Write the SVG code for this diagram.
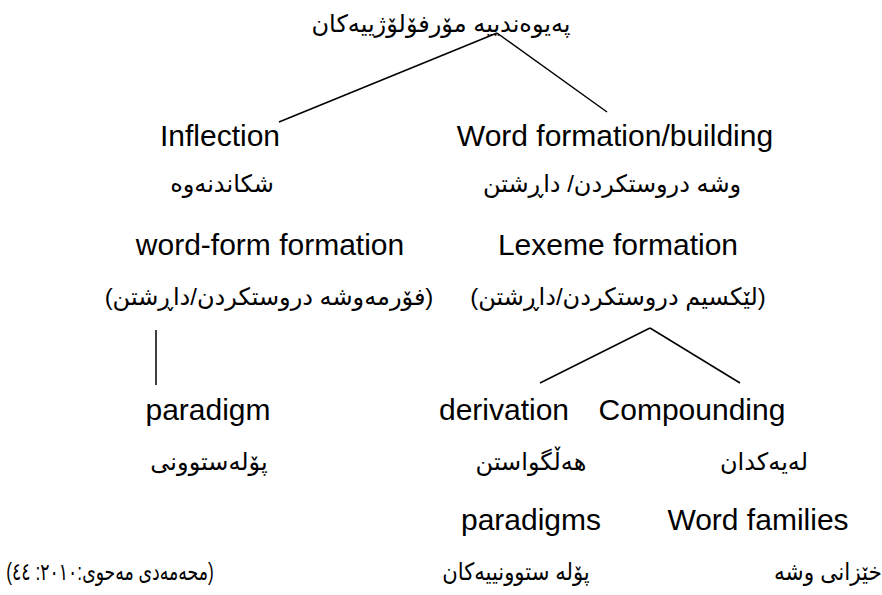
<svg xmlns="http://www.w3.org/2000/svg" width="882" height="595" viewBox="0 0 882 595">
<style>
text{fill:#000;text-anchor:middle}
.en{font-family:"Liberation Sans",Arial,sans-serif;font-size:30px}
.ar{font-family:"Liberation Sans","DejaVu Sans",sans-serif;font-size:24px;direction:rtl;unicode-bidi:embed}
.ln{stroke:#000;stroke-width:1.5;fill:none}
</style>
<rect width="882" height="595" fill="#fff"/>
<g id="connectors">
<line class="ln" x1="497" y1="33" x2="279" y2="122"/>
<line class="ln" x1="497" y1="33" x2="607" y2="112"/>
<line class="ln" x1="156" y1="330" x2="156" y2="385"/>
<line class="ln" x1="650" y1="328" x2="540" y2="383"/>
<line class="ln" x1="650" y1="328" x2="740" y2="383"/>
</g>
<g id="title"><text class="ar" x="441" y="32">پەیوەندییە مۆرفۆلۆژییەکان</text></g>
<g id="inflection">
<text class="en" x="220" y="146">Inflection</text>
<text class="ar" x="222" y="192">شکاندنەوە</text>
</g>
<g id="word-formation">
<text class="en" x="615" y="146">Word formation/building</text>
<text class="ar" x="612" y="192">وشە دروستکردن/ داڕشتن</text>
</g>
<g id="word-form-formation">
<text class="en" x="270" y="255">word-form formation</text>
<text class="ar" x="269" y="305">(فۆرمەوشە دروستکردن/داڕشتن)</text>
</g>
<g id="lexeme-formation">
<text class="en" x="618" y="255">Lexeme formation</text>
<text class="ar" x="618" y="305">(لێکسیم دروستکردن/داڕشتن)</text>
</g>
<g id="paradigm">
<text class="en" x="208" y="420">paradigm</text>
<text class="ar" x="209" y="470">پۆلەستوونی</text>
</g>
<g id="derivation">
<text class="en" x="504" y="420">derivation</text>
<text class="ar" x="531" y="470">هەڵگواستن</text>
<text class="en" x="531" y="530">paradigms</text>
<text class="ar" transform="translate(516,580) scale(0.88,1)" x="0" y="0">پۆلە ستوونییەکان</text>
</g>
<g id="compounding">
<text class="en" x="692" y="420">Compounding</text>
<text class="ar" x="764" y="470">لەیەکدان</text>
<text class="en" x="758" y="530">Word families</text>
<text class="ar" transform="translate(828,580) scale(0.9,1)" x="0" y="0">خێزانی وشە</text>
</g>
<g id="source"><text class="ar" transform="translate(110,580) scale(0.72,1)" x="0" y="0">(محەمەدی مەحوی:٢٠١٠: ٤٤)</text></g>
</svg>
